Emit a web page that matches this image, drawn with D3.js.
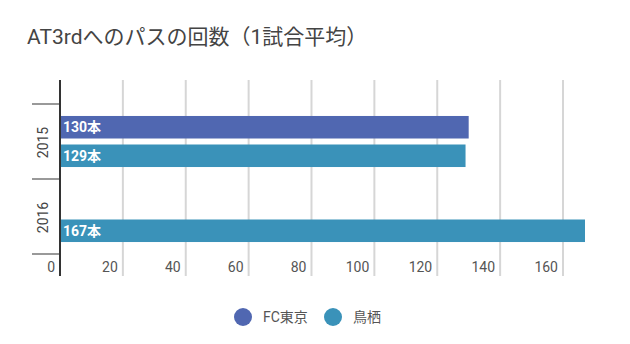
<!DOCTYPE html>
<html><head><meta charset="utf-8">
<script src="https://cdn.jsdelivr.net/npm/d3@7/dist/d3.min.js"></script>
<style>
body{margin:0;background:#fff;}
svg{display:block;font-family:Roboto,"Noto Sans CJK JP",sans-serif;}
</style></head>
<body><svg id="c" width="630" height="344"></svg>
<script>
const title = "AT3rdへのパスの回数（1試合平均）";
const years = ["2015", "2016"];
const seriesNames = ["FC東京", "鳥栖"];
const fcTokyo = [130, null];
const tosu = [129, 167];
const xTicks = [0, 20, 40, 60, 80, 100, 120, 140, 160];
const colors = ["#5067b1", "#3a92b9"];
const unit = "本";

const svg = d3.select("#c");
const mLeft = 60, mRight = 585, mTop = 80, bandTop = 104, bandBottom = 254, mBottom = 276;

svg.append("text").attr("x", 27).attr("y", 44)
  .attr("font-size", 21).attr("fill", "#444").text(title);

const x = d3.scaleLinear().domain([0, 167]).range([mLeft, mRight]);
const y = d3.scaleBand().domain(years).range([bandTop, bandBottom]);
const inner = d3.scaleBand().domain(seriesNames).range([0, y.bandwidth()]).paddingInner(0.21).paddingOuter(0.42);

// gridlines
svg.append("g").selectAll("line").data(xTicks.filter(d => d > 0)).join("line")
  .attr("x1", d => x(d)).attr("x2", d => x(d)).attr("y1", mTop).attr("y2", mBottom)
  .attr("stroke", "#d6d6d6").attr("stroke-width", 2);

// x tick labels
svg.append("g").selectAll("text").data(xTicks).join("text")
  .attr("x", d => x(d) - 5).attr("y", 272).attr("text-anchor", "end")
  .attr("font-size", 14).attr("fill", "#555").text(d => d);

// category ticks
const catEdges = [bandTop].concat(years.map(yy => y(yy) + y.bandwidth()));
svg.append("g").selectAll("line").data(catEdges).join("line")
  .attr("x1", 32).attr("x2", mLeft).attr("y1", d => d).attr("y2", d => d)
  .attr("stroke", "#999").attr("stroke-width", 2);

// category labels
svg.append("g").selectAll("text").data(years).join("text")
  .attr("transform", d => `translate(48,${y(d) + y.bandwidth() / 2 + 1}) rotate(-90)`)
  .attr("text-anchor", "middle").attr("font-size", 14).attr("fill", "#444").text(d => d);

// bars
const data = [];
years.forEach((yy, i) => {
  [fcTokyo, tosu].forEach((arr, s) => {
    if (arr[i] != null) data.push({ year: yy, series: seriesNames[s], value: arr[i], color: colors[s] });
  });
});
const g = svg.append("g");
g.selectAll("rect").data(data).join("rect")
  .attr("x", x(0)).attr("y", d => y(d.year) + inner(d.series))
  .attr("width", d => x(d.value) - x(0)).attr("height", inner.bandwidth())
  .attr("fill", d => d.color);
g.selectAll("text").data(data).join("text")
  .attr("x", x(0) + 3).attr("y", d => y(d.year) + inner(d.series) + inner.bandwidth() / 2 + 5)
  .attr("font-size", 14).attr("font-weight", "bold").attr("fill", "#fff")
  .text(d => d.value + unit);

// axis line
svg.append("line").attr("x1", mLeft).attr("x2", mLeft).attr("y1", mTop).attr("y2", mBottom)
  .attr("stroke", "#333").attr("stroke-width", 2);

// legend
const legX = [243, 333];
const leg = svg.append("g").selectAll("g").data(seriesNames).join("g")
  .attr("transform", (d, i) => `translate(${legX[i]},317)`);
leg.append("circle").attr("r", 9).attr("fill", (d, i) => colors[i]);
leg.append("text").attr("x", 20).attr("y", 5).attr("font-size", 14).attr("fill", "#555").text(d => d);
</script></body></html>
